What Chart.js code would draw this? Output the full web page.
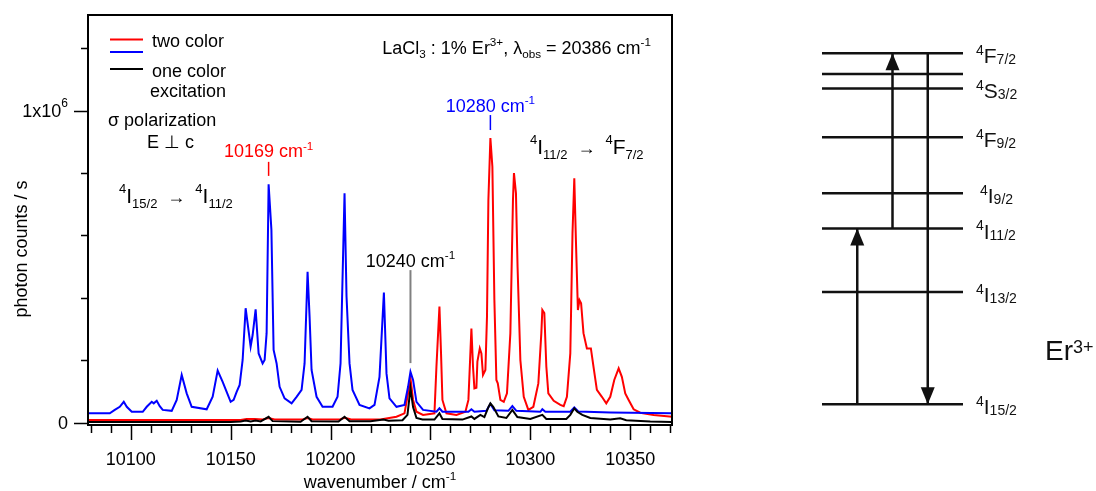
<!DOCTYPE html>
<html><head><meta charset="utf-8">
<script src="https://cdn.jsdelivr.net/npm/chart.js@4.4.0/dist/chart.umd.min.js"></script>
<style>
html,body{margin:0;padding:0;background:#fff;width:1096px;height:491px;overflow:hidden}
.wrap{position:absolute;top:0}
</style></head><body>
<div class="wrap" style="left:0;width:700px;height:491px"><canvas id="c1" width="700" height="491"></canvas></div>
<div class="wrap" style="left:800px;width:296px;height:491px"><canvas id="c2" width="296" height="491"></canvas></div>
<script>
// ---------- data (counts in units of 10^3 photon counts / s) ----------
const blueX = [10079,10089.5,10092,10094.5,10096.5,10098,10100.5,10106,10108,10110.5,10111.5,10113,10114.5,10116,10120.5,10123,10125.5,10128,10130.5,10138,10141,10143.5,10146,10148,10150,10151.5,10153,10154.5,10156,10157.5,10160,10161,10162.5,10164,10166,10167,10168,10169,10170.4,10171.5,10173,10174.5,10177,10180.5,10183,10185.5,10187,10188.5,10189.5,10190.5,10193,10196,10201,10203.5,10205,10207,10208,10209.5,10211,10214.5,10219.5,10222,10224.5,10226.7,10228,10229.5,10233,10237,10238.8,10240,10241.3,10243,10246.3,10253,10254.5,10256,10269,10270.5,10272,10278,10280,10282,10289,10291,10293,10305,10306,10307.5,10320,10322,10324,10340,10371];
const blueY = [30,30,41,51,67,51,35,35,51,67,62,70,53,41,38,73,153,94,51,43,83,167,131,99,67,73,99,121,201,367,244,281,363,222,190,201,287,764,618,233,190,115,78,62,83,105,190,484,340,169,83,51,51,83,190,735,404,190,105,57,46,57,147,417,158,78,51,57,115,163,137,67,41,35,46,35,35,43,35,38,60,40,38,53,38,35,43,35,35,49,36,33,30];

const redX = [10079,10155,10158,10162,10166,10169,10172,10186,10188.5,10191,10205,10207,10210,10225,10233,10237,10238.8,10240,10241.3,10243,10246.3,10252,10253,10254.5,10255.3,10256,10258,10263,10267.5,10269,10270.5,10271.3,10272,10273,10273.5,10274.7,10275.5,10276.3,10277.5,10278.3,10279,10280,10281,10282,10283,10283.7,10285,10286.7,10288.3,10290,10291.3,10291.8,10292.8,10293.6,10295,10296.7,10299,10301.5,10304,10305.5,10306,10307,10308,10309,10311.7,10315,10316.7,10318.3,10320,10321.1,10322,10322.8,10323.8,10324.6,10325.4,10326.6,10328.3,10330.3,10331.6,10333.3,10335.8,10338,10340,10342,10344.2,10345.8,10347.5,10349.2,10351.7,10355,10361.7,10371];
const redY = [9,9,12,12,10,15,10,10,15,10,11,16,11,10,19,30,94,143,73,35,25,30,180,372,222,73,30,25,35,73,302,180,110,112,196,238,222,153,169,340,714,912,820,393,137,126,73,67,94,287,714,800,735,500,201,83,41,51,126,287,361,351,180,94,70,57,53,83,222,607,783,586,361,393,383,287,238,238,180,105,83,62,83,137,174,147,94,73,43,32,25,19];

const blackX = [10079,10150,10155,10157.5,10160,10162.5,10165,10169,10171,10185,10188.5,10190.5,10204,10207,10209.5,10220,10226.5,10229,10236,10238.5,10240,10241.3,10243,10246,10252,10254.5,10256,10266,10270.5,10272,10275,10277,10279,10280,10281.5,10284,10288,10291,10293.5,10300,10306,10308,10318,10320,10322,10323.5,10326,10330,10340,10345,10348,10360,10371];
const blackY = [2,2,4,7,4,7,4,19,5,3,19,5,4,19,5,5,10,6,8,25,110,50,15,10,10,30,12,10,20,12,25,18,50,62,50,20,15,41,18,12,25,12,12,25,46,35,25,15,10,14,8,4,2];

// axis ticks
const xTickStep = 10, xLabelStep = 50;
const yTickValues = [0, 200, 400, 600, 800, 1000, 1200];   // x10^3
const yLabelValues = [0, 1000];

// peak annotations
const annotText = ['10169', '10280', '10240'];
const annotPeak = [10169, 10280, 10240];

// energy level diagram (cm^-1)
const levelSup    = ['4', '4', '4', '4', '4', '4', '2', '4'];
const levelTerm   = ['I', 'I', 'I', 'I', 'F', 'S', 'H', 'F'];
const levelJ      = ['15/2', '13/2', '11/2', '9/2', '9/2', '3/2', '11/2', '7/2'];
const levelEnergy = [0, 6540, 10240, 12300, 15560, 18400, 19250, 20450];
const levelShown  = [true, true, true, true, true, true, false, true];
const arrowFrom = [0, 10240, 20450];
const arrowTo   = [10240, 20450, 0];
const arrowSlot = [0.25, 0.5, 0.75];

// ---------- helpers ----------
const FONT = '"Liberation Sans", Arial, Helvetica, sans-serif';
// parts: [text, mode(0 normal, 1 sup, -1 sub), optional size]
function rich(ctx, parts, x, y, size, color, align, o) {
  o = o || {};
  const ss = o.supSize || size * 0.65, bs = o.subSize || size * 0.65;
  const supDy = o.supDy !== undefined ? o.supDy : -size * 0.42;
  const subDy = o.subDy !== undefined ? o.subDy : size * 0.25;
  const fs = p => p[2] || (p[1] === 1 ? ss : p[1] === -1 ? bs : size);
  let w = 0;
  const ws = parts.map(p => {
    ctx.font = fs(p) + 'px ' + FONT;
    const v = ctx.measureText(p[0]).width; w += v; return v;
  });
  let cx = align === 'center' ? x - w / 2 : align === 'right' ? x - w : x;
  ctx.save();
  ctx.fillStyle = color; ctx.textAlign = 'left'; ctx.textBaseline = 'alphabetic';
  parts.forEach((p, i) => {
    ctx.font = fs(p) + 'px ' + FONT;
    ctx.fillText(p[0], cx, y + (p[1] === 1 ? supDy : p[1] === -1 ? subDy : 0));
    cx += ws[i];
  });
  ctx.restore();
}
const toXY = (xs, ys) => xs.map((x, i) => ({x: x, y: ys[i] * 1000}));

// ---------- main spectrum ----------
const decor = {
  id: 'decor',
  afterDraw(chart) {
    const ctx = chart.ctx, a = chart.chartArea, xs = chart.scales.x, ys = chart.scales.y;
    ctx.save();
    // frame
    ctx.strokeStyle = '#000'; ctx.lineWidth = 2;
    ctx.strokeRect(a.left, a.top, a.right - a.left, a.bottom - a.top);
    // x ticks
    ctx.lineWidth = 1.5;
    ctx.beginPath();
    for (let v = Math.ceil(xs.min / xTickStep) * xTickStep; v <= xs.max; v += xTickStep) {
      const px = Math.round(xs.getPixelForValue(v)) + 0.5;
      const major = v % xLabelStep === 0;
      ctx.moveTo(px, a.bottom + 1); ctx.lineTo(px, a.bottom + (major ? 15 : 8));
    }
    // y ticks
    yTickValues.forEach(v => {
      const py = Math.round(ys.getPixelForValue(v * 1000)) + 0.5;
      const major = yLabelValues.includes(v);
      ctx.moveTo(a.left - 1, py); ctx.lineTo(a.left - (major ? 14 : 7), py);
    });
    ctx.stroke();
    // y labels
    yLabelValues.forEach(v => {
      const py = ys.getPixelForValue(v * 1000) + 6.5;
      if (v === 0) rich(ctx, [['0', 0]], 68, py, 18, '#000', 'right');
      else rich(ctx, [['1x10', 0], ['6', 1]], 68, py, 18, '#000', 'right', {supSize: 12, supDy: -10});
    });
    // axis titles
    rich(ctx, [['wavenumber / cm', 0], ['-1', 1]], (a.left + a.right) / 2, 488, 18, '#000', 'center');
    ctx.save();
    ctx.translate(26.5, 249);
    ctx.rotate(-Math.PI / 2);
    rich(ctx, [['photon counts / s', 0]], 0, 0, 18, '#000', 'center');
    ctx.restore();
    // legend
    const L = a.left;
    ctx.lineWidth = 2;
    [['#ff0000', 39.5], ['#0000ff', 52], ['#000000', 69]].forEach(([c, y]) => {
      ctx.strokeStyle = c; ctx.beginPath(); ctx.moveTo(L + 22, y); ctx.lineTo(L + 55, y); ctx.stroke();
    });
    rich(ctx, [['two color', 0]], L + 64, 47.3, 18, '#000', 'left');
    rich(ctx, [['one color', 0]], L + 64, 76.7, 18, '#000', 'left');
    rich(ctx, [['excitation', 0]], L + 62, 96.7, 18, '#000', 'left');
    // text annotations
    rich(ctx, [['\u03c3 polarization', 0]], L + 20, 125.5, 18, '#000', 'left');
    rich(ctx, [['E \u22a5 c', 0]], L + 59, 148.3, 18, '#000', 'left');
    const so = {supSize: 13, subSize: 13, supDy: -10, subDy: 5};
    rich(ctx, [['4', 1], ['I', 0], ['15/2', -1], ['  \u2192  ', 0, 18], ['4', 1], ['I', 0], ['11/2', -1]], L + 31, 203, 21, '#000', 'left', so);
    rich(ctx, [['LaCl', 0], ['3', -1], [' : 1% Er', 0], ['3+', 1], [', \u03bb', 0], ['obs', -1], [' = 20386 cm', 0], ['-1', 1]], a.right - 21, 53.5, 18, '#000', 'right');
    rich(ctx, [['4', 1], ['I', 0], ['11/2', -1], ['  \u2192  ', 0, 18], ['4', 1], ['F', 0], ['7/2', -1]], a.right - 142, 153.5, 21, '#000', 'left', so);
    // peak labels + leaders (label baseline, leader top, leader bottom in 10^3 counts)
    const annotLevels = [[851, 836, 791], [997, 986, 938], [500, 489, 191]];
    const annotColor = ['#ff0000', '#0000ff', '#000000'];
    const leadColor = ['#ff0000', '#0000ff', '#808080'];
    annotPeak.forEach((p, i) => {
      const px = xs.getPixelForValue(p);
      const [lb, lt, ll] = annotLevels[i];
      ctx.strokeStyle = leadColor[i]; ctx.lineWidth = i === 2 ? 2 : 1.5;
      ctx.beginPath();
      ctx.moveTo(px, ys.getPixelForValue(lt * 1000));
      ctx.lineTo(px, ys.getPixelForValue(ll * 1000));
      ctx.stroke();
      rich(ctx, [[annotText[i] + ' cm', 0], ['-1', 1]], px, ys.getPixelForValue(lb * 1000), 18, annotColor[i], 'center');
    });
    ctx.restore();
  }
};

new Chart(document.getElementById('c1'), {
  type: 'line',
  data: {datasets: [
    {label: 'one color excitation', data: toXY(blackX, blackY), borderColor: '#000000', borderWidth: 2},
    {label: 'two color', data: toXY(blueX, blueY), borderColor: '#0000ff', borderWidth: 2},
    {label: 'two color', data: toXY(redX, redY), borderColor: '#ff0000', borderWidth: 2}
  ]},
  options: {
    responsive: false, animation: false,
    elements: {point: {radius: 0}, line: {tension: 0}},
    layout: {padding: {left: 0, right: 28, top: 15, bottom: 0}},
    plugins: {legend: {display: false}, tooltip: {enabled: false}},
    scales: {
      x: {type: 'linear', min: 10078.6, max: 10370.9,
          grid: {display: false, drawTicks: false}, border: {display: false},
          ticks: {stepSize: xTickStep, autoSkip: false, maxRotation: 0, padding: 24, color: '#000',
                  font: {family: FONT, size: 18},
                  callback: v => (Math.abs(v % xLabelStep) < 1e-6 ? String(v) : '')},
          afterFit: s => { s.height = 66; }},
      y: {type: 'linear', min: -7400, max: 1306700,
          grid: {display: false, drawTicks: false}, border: {display: false},
          ticks: {display: false},
          afterFit: s => { s.width = 88; }}
    }
  },
  plugins: [decor]
});

// ---------- energy level diagram ----------
const levelPlugin = {
  id: 'levels',
  afterDatasetsDraw(chart) {
    const ctx = chart.ctx, a = chart.chartArea, ys = chart.scales.y;
    ctx.save();
    ctx.fillStyle = '#111';
    chart.data.datasets.forEach((ds, i) => {
      if (!ds.isArrow) return;
      const pts = chart.getDatasetMeta(i).data;
      const p0 = pts[0], p1 = pts[1];
      const dir = p1.y < p0.y ? 1 : -1;   // 1 = up
      ctx.beginPath();
      ctx.moveTo(p1.x, p1.y);
      ctx.lineTo(p1.x - 7, p1.y + dir * 17);
      ctx.lineTo(p1.x + 7, p1.y + dir * 17);
      ctx.closePath(); ctx.fill();
    });
    levelEnergy.forEach((e, i) => {
      if (!levelShown[i]) return;
      const py = ys.getPixelForValue(e) + 10;
      const x = a.right + (levelJ[i] === '9/2' && levelTerm[i] === 'I' ? 17 : 13);
      rich(ctx, [[levelSup[i], 1], [levelTerm[i], 0], [levelJ[i], -1]], x, py, 21, '#111', 'left',
           {supSize: 14, subSize: 14, supDy: -8.3, subDy: 1});
    });
    rich(ctx, [['Er', 0], ['3+', 1]], 245, 360, 28, '#111', 'left', {supSize: 18, supDy: -7});
    ctx.restore();
  }
};

const diagDatasets = levelEnergy.map((e, i) => ({
  label: levelSup[i] + levelTerm[i] + levelJ[i],
  data: [{x: 0, y: e}, {x: 1, y: e}],
  borderColor: '#111', borderWidth: 2.5, clip: false
})).concat(arrowSlot.map((s, i) => ({
  label: 'arrow' + i, isArrow: true,
  data: [{x: s, y: arrowFrom[i]}, {x: s, y: arrowTo[i]}],
  borderColor: '#111', borderWidth: 2.5, clip: false
})));

new Chart(document.getElementById('c2'), {
  type: 'line',
  data: {datasets: diagDatasets},
  options: {
    responsive: false, animation: false,
    elements: {point: {radius: 0}, line: {tension: 0, borderCapStyle: 'butt'}},
    layout: {padding: {left: 22, right: 133, top: 53.3, bottom: 86.7}},
    plugins: {legend: {display: false}, tooltip: {enabled: false}},
    scales: {
      x: {type: 'linear', min: 0, max: 1, display: false},
      y: {type: 'linear', min: 0, max: 20450, display: false}
    }
  },
  plugins: [levelPlugin]
});
</script>
</body></html>
